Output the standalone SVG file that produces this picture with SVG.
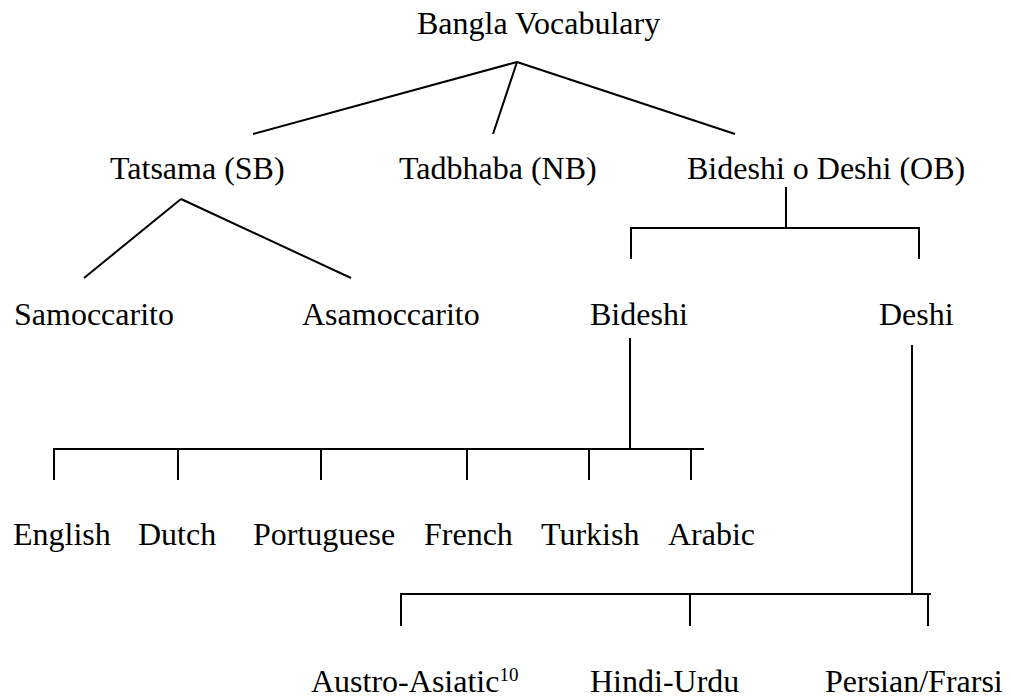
<svg xmlns="http://www.w3.org/2000/svg" width="1011" height="698" viewBox="0 0 1011 698">
  <style>
    .lbl { font-family: "Liberation Serif", "Times New Roman", serif; font-size: 32px; fill: #000; }
    .sup { font-size: 19px; }
    .ln { stroke: #000; stroke-width: 2; fill: none; stroke-linecap: butt; }
  </style>
  <rect width="1011" height="698" fill="#fff"/>

  <!-- connectors -->
  <g id="connectors" class="ln">
    <!-- root fan-out -->
    <path d="M517 62 L253 134 M517 62 L493 134 M517 62 L735 134"/>
    <!-- Tatsama split -->
    <path d="M181 199 L84 278 M181 199 L351 278"/>
    <!-- Bideshi o Deshi bracket -->
    <path d="M786 187 V228 M631 259 V228 H919 V259"/>
    <!-- Bideshi bracket -->
    <path d="M630 338 V449 M54 480 V449 H704 M178 449 V480 M321 449 V480 M467 449 V480 M589 449 V480 M691 449 V480"/>
    <!-- Deshi bracket -->
    <path d="M912 345 V594 M401 626 V594 H931 M690 594 V626 M928 594 V626"/>
  </g>

  <g id="node-root"><text class="lbl" x="417" y="34">Bangla Vocabulary</text></g>
  <g id="node-tatsama"><text class="lbl" x="110" y="179">Tatsama (SB)</text></g>
  <g id="node-tadbhaba"><text class="lbl" x="399" y="179">Tadbhaba (NB)</text></g>
  <g id="node-bideshi-o-deshi"><text class="lbl" x="687" y="179">Bideshi o Deshi (OB)</text></g>
  <g id="node-samoccarito"><text class="lbl" x="14" y="325">Samoccarito</text></g>
  <g id="node-asamoccarito"><text class="lbl" x="302" y="325">Asamoccarito</text></g>
  <g id="node-bideshi"><text class="lbl" x="590" y="325">Bideshi</text></g>
  <g id="node-deshi"><text class="lbl" x="879" y="325">Deshi</text></g>
  <g id="node-english"><text class="lbl" x="13" y="545">English</text></g>
  <g id="node-dutch"><text class="lbl" x="138" y="545">Dutch</text></g>
  <g id="node-portuguese"><text class="lbl" x="253" y="545">Portuguese</text></g>
  <g id="node-french"><text class="lbl" x="424" y="545">French</text></g>
  <g id="node-turkish"><text class="lbl" x="541" y="545">Turkish</text></g>
  <g id="node-arabic"><text class="lbl" x="668" y="545">Arabic</text></g>
  <g id="node-austro-asiatic"><text class="lbl" x="311" y="692">Austro-Asiatic<tspan class="sup" dy="-11">10</tspan></text></g>
  <g id="node-hindi-urdu"><text class="lbl" x="590" y="692">Hindi-Urdu</text></g>
  <g id="node-persian"><text class="lbl" x="825" y="692">Persian/Frarsi</text></g>
</svg>
